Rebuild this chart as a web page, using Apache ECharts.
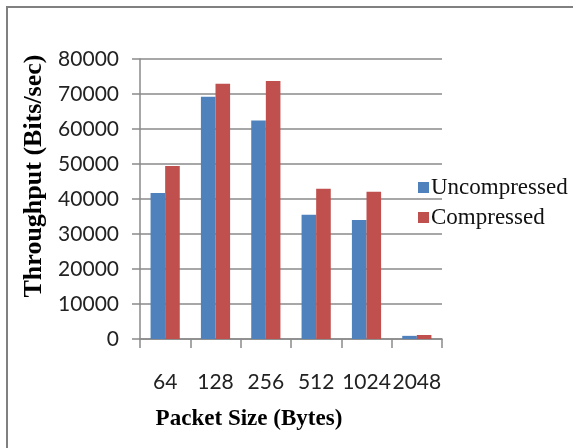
<!DOCTYPE html>
<html>
<head>
<meta charset="utf-8">
<script src="https://cdn.jsdelivr.net/npm/echarts@6/dist/echarts.min.js"></script>
<style>
  html, body { margin: 0; padding: 0; background: #fff; }
  #chart { width: 573px; height: 448px; }
</style>
</head>
<body>
<div id="chart"></div>
<script>
// Packet sizes (bytes) along the x axis
const packetSizes = ['64', '128', '256', '512', '1024', '2048'];
// Throughput in bits/sec
const uncompressed = [41700, 69200, 62400, 35500, 34000, 900];
const compressed = [49400, 72900, 73700, 42900, 42100, 1150];
// Y axis range and step
const yMin = 0;
const yMax = 80000;
const yStep = 10000;

const axisGray = '#8a8a8a';
const labelFont = 'Lato, "Liberation Sans", sans-serif';
const titleFont = '"Liberation Serif", "DejaVu Serif", serif';

const chart = echarts.init(document.getElementById('chart'), null, { renderer: 'canvas' });

chart.setOption({
  animation: false,
  backgroundColor: '#ffffff',
  grid: { left: 140, right: 131, top: 59, bottom: 109, containLabel: false },
  legend: {
    orient: 'vertical',
    left: 413,
    top: 171,
    itemWidth: 11,
    itemHeight: 11,
    itemGap: 7,
    icon: 'rect',
    textStyle: { fontFamily: titleFont, fontSize: 23, color: '#111', padding: [0, 0, 0, -3] },
    data: ['Uncompressed', 'Compressed']
  },
  xAxis: {
    type: 'category',
    data: packetSizes,
    boundaryGap: true,
    axisLine: { show: true, lineStyle: { color: axisGray, width: 1.5 } },
    axisTick: { show: true, alignWithLabel: false, length: 9, lineStyle: { color: axisGray, width: 1.5 } },
    axisLabel: { interval: 0, margin: 33, fontFamily: labelFont, fontSize: 21, color: '#222' },
    splitLine: { show: false }
  },
  yAxis: {
    type: 'value',
    min: yMin,
    max: yMax,
    interval: yStep,
    axisLine: { show: true, lineStyle: { color: axisGray, width: 1.5 } },
    axisTick: { show: true, length: 8, lineStyle: { color: axisGray, width: 1.5 } },
    axisLabel: {
      margin: 21,
      fontFamily: labelFont,
      fontSize: 21,
      color: '#222',
      formatter: (v) => String(v)
    },
    splitLine: { show: true, lineStyle: { color: axisGray, width: 1.5 } }
  },
  series: [
    {
      name: 'Uncompressed',
      type: 'bar',
      data: uncompressed,
      barGap: '0%',
      barCategoryGap: '42%',
      itemStyle: { color: '#4F81BD' }
    },
    {
      name: 'Compressed',
      type: 'bar',
      data: compressed,
      barGap: '0%',
      barCategoryGap: '42%',
      itemStyle: { color: '#C0504D' }
    }
  ],
  graphic: [
    {
      type: 'rect',
      shape: { x: 7, y: 7, width: 600, height: 500 },
      style: { fill: 'none', stroke: '#808080', lineWidth: 2 },
      silent: true,
      z: 100
    },
    {
      type: 'text',
      x: 249,
      y: 419,
      scaleX: 0.96,
      style: {
        text: 'Packet Size (Bytes)',
        font: 'bold 24px ' + titleFont,
        fill: '#000',
        textAlign: 'center',
        textVerticalAlign: 'middle'
      }
    },
    {
      type: 'text',
      x: 34,
      y: 176,
      rotation: Math.PI / 2,
      style: {
        text: 'Throughput (Bits/sec)',
        font: 'bold 26px ' + titleFont,
        fill: '#000',
        textAlign: 'center',
        textVerticalAlign: 'middle'
      }
    }
  ]
});
</script>
</body>
</html>
